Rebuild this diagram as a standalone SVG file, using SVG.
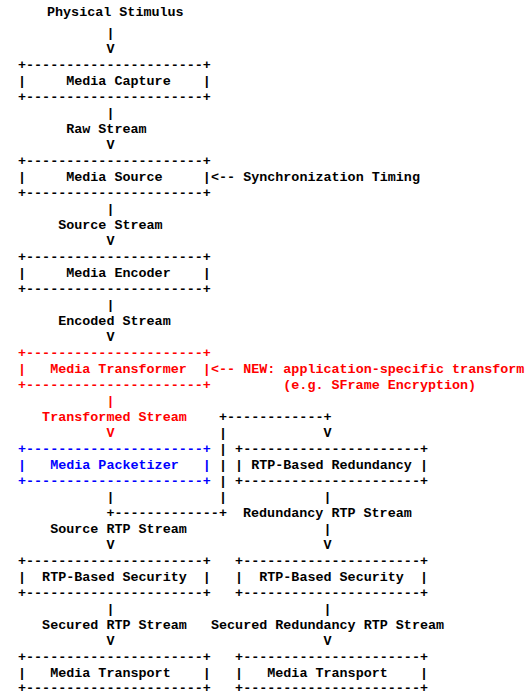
<svg xmlns="http://www.w3.org/2000/svg" width="532" height="695" viewBox="0 0 532 695" xml:space="preserve">
<style>
text{font-family:"Liberation Mono","Courier New",monospace;font-size:13.4px;font-weight:bold;fill:#000;white-space:pre}
.r{fill:#ff0000}
.b{fill:#0000ff}
</style>
<rect width="532" height="695" fill="#fff"/>
<g id="connectors">
<text x="47" y="16">Physical Stimulus</text>
<text x="106.4" y="37">|</text>
<text x="106.4" y="53">V</text>
<text x="106.4" y="117">|</text>
<text x="66.2" y="133">Raw Stream</text>
<text x="106.4" y="149">V</text>
<text x="211" y="181">&lt;-- Synchronization Timing</text>
<text x="106.4" y="213">|</text>
<text x="58.2" y="229">Source Stream</text>
<text x="106.4" y="245">V</text>
<text x="106.4" y="309">|</text>
<text x="58.2" y="325">Encoded Stream</text>
<text x="106.4" y="341">V</text>
<text class="r" x="211" y="373">&lt;-- NEW: application-specific transform</text>
<text class="r" x="283.3" y="389">(e.g. SFrame Encryption)</text>
<text class="r" x="106.4" y="405">|</text>
<text class="r" x="42.1" y="421">Transformed Stream</text>
<text x="219" y="421">+------------+</text>
<text class="r" x="106.4" y="437">V</text>
<text x="219" y="437">|</text>
<text x="323.5" y="437">V</text>
<text x="219" y="453">|</text>
<text x="219" y="469">|</text>
<text x="219" y="485">|</text>
<text x="106.4" y="501">|</text>
<text x="219" y="501">|</text>
<text x="323.5" y="501">|</text>
<text x="106.4" y="517">+-------------+  Redundancy RTP Stream</text>
<text x="50.2" y="533">Source RTP Stream</text>
<text x="323.5" y="533">|</text>
<text x="106.4" y="549">V</text>
<text x="323.5" y="549">V</text>
<text x="106.4" y="613">|</text>
<text x="323.5" y="613">|</text>
<text x="42.1" y="629">Secured RTP Stream</text>
<text x="211" y="629">Secured Redundancy RTP Stream</text>
<text x="106.4" y="645">V</text>
<text x="323.5" y="645">V</text>
</g>
<g id="media-capture">
<text x="18" y="69">+----------------------+</text>
<text x="18" y="85">|     Media Capture    |</text>
<text x="18" y="101">+----------------------+</text>
</g>
<g id="media-source">
<text x="18" y="165">+----------------------+</text>
<text x="18" y="181">|     Media Source     |</text>
<text x="18" y="197">+----------------------+</text>
</g>
<g id="media-encoder">
<text x="18" y="261">+----------------------+</text>
<text x="18" y="277">|     Media Encoder    |</text>
<text x="18" y="293">+----------------------+</text>
</g>
<g id="media-transformer">
<text class="r" x="18" y="357">+----------------------+</text>
<text class="r" x="18" y="373">|   Media Transformer  |</text>
<text class="r" x="18" y="389">+----------------------+</text>
</g>
<g id="media-packetizer">
<text class="b" x="18" y="453">+----------------------+</text>
<text class="b" x="18" y="469">|   Media Packetizer   |</text>
<text class="b" x="18" y="485">+----------------------+</text>
</g>
<g id="rtp-redundancy">
<text x="235.1" y="453">+----------------------+</text>
<text x="235.1" y="469">| RTP-Based Redundancy |</text>
<text x="235.1" y="485">+----------------------+</text>
</g>
<g id="rtp-security-source">
<text x="18" y="565">+----------------------+</text>
<text x="18" y="581">|  RTP-Based Security  |</text>
<text x="18" y="597">+----------------------+</text>
</g>
<g id="rtp-security-redundancy">
<text x="235.1" y="565">+----------------------+</text>
<text x="235.1" y="581">|  RTP-Based Security  |</text>
<text x="235.1" y="597">+----------------------+</text>
</g>
<g id="media-transport-source">
<text x="18" y="661">+----------------------+</text>
<text x="18" y="677">|   Media Transport    |</text>
<text x="18" y="692">+----------------------+</text>
</g>
<g id="media-transport-redundancy">
<text x="235.1" y="661">+----------------------+</text>
<text x="235.1" y="677">|   Media Transport    |</text>
<text x="235.1" y="692">+----------------------+</text>
</g>
</svg>
